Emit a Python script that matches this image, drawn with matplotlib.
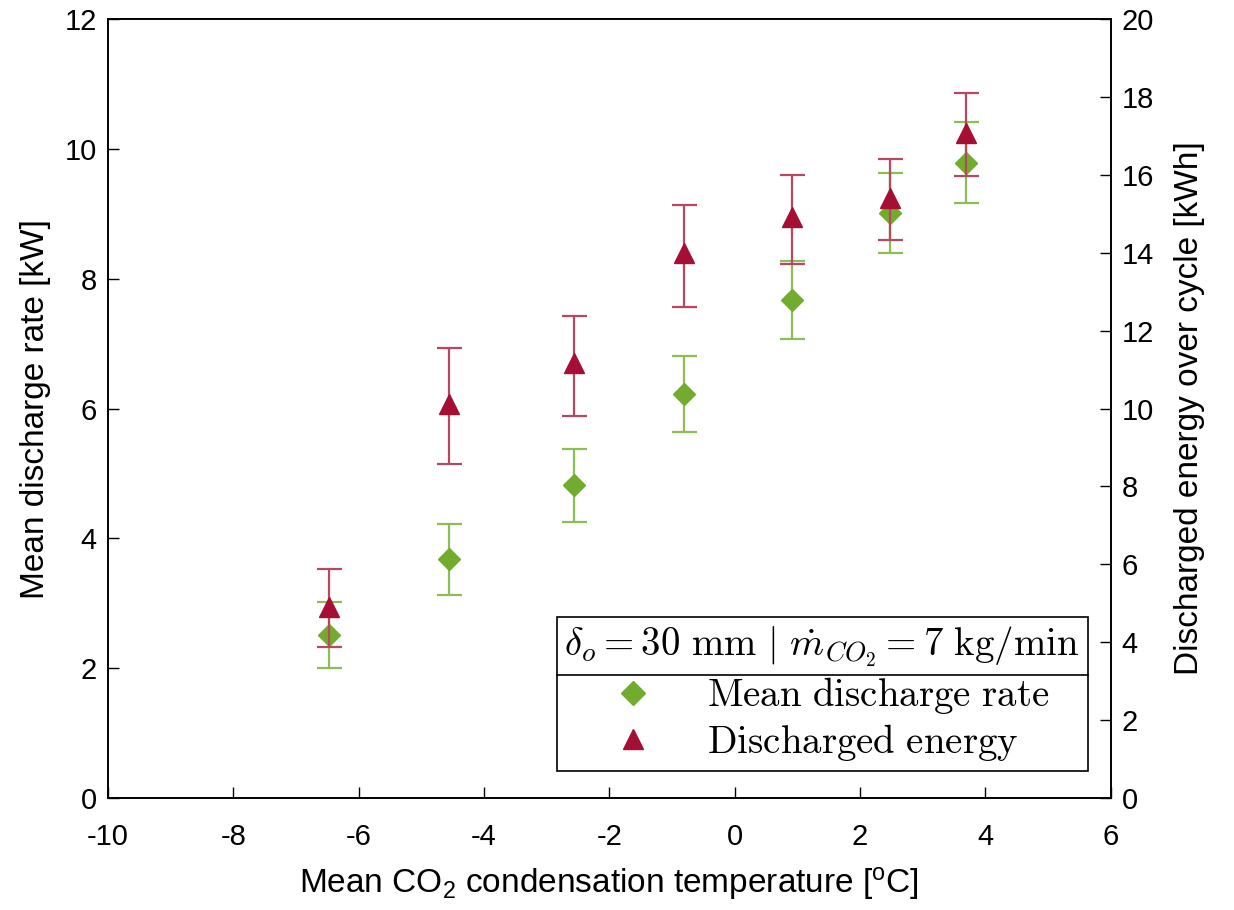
import numpy as np
import matplotlib
matplotlib.use("Agg")
import matplotlib.pyplot as plt
from matplotlib.font_manager import FontProperties
from matplotlib.lines import Line2D

plt.rcParams['font.family'] = ['Liberation Sans', 'DejaVu Sans']
plt.rcParams['mathtext.fontset'] = 'custom'
plt.rcParams['mathtext.rm'] = 'Liberation Sans'
plt.rcParams['mathtext.it'] = 'Liberation Sans:italic'
plt.rcParams['axes.unicode_minus'] = False

# mean CO2 condensation temperature [C]
temp = [-6.47, -4.56, -2.56, -0.8, 0.91, 2.48, 3.7]

# mean discharge rate [kW] with error bar ends
rate = [2.51, 3.68, 4.82, 6.22, 7.67, 9.01, 9.79]
rate_hi = [3.02, 4.22, 5.38, 6.81, 8.27, 9.63, 10.41]
rate_lo = [2.0, 3.13, 4.26, 5.64, 7.07, 8.40, 9.16]

# discharged energy [kWh] with error bar ends
energy = [4.91, 10.12, 11.16, 13.99, 14.93, 15.4, 17.07]
energy_hi = [5.89, 11.55, 12.38, 15.23, 16.0, 16.4, 18.11]
energy_lo = [3.87, 8.58, 9.80, 12.62, 13.7, 14.33, 15.96]

green = '#72AC2E'
red = '#A50F33'

rate = np.array(rate)
energy = np.array(energy)
rate_err = [rate - np.array(rate_lo), np.array(rate_hi) - rate]
energy_err = [energy - np.array(energy_lo), np.array(energy_hi) - energy]

fig = plt.figure(figsize=(12.34, 9.10), dpi=100)
ax = fig.add_axes([0.0875, 0.123, 0.8125, 0.856])
ax2 = ax.twinx()

ax.errorbar(temp, rate, yerr=rate_err, fmt='D', color=green, ms=11,
            ecolor='#8DBE55', elinewidth=1.6, capsize=9, capthick=1.6, zorder=3)
ax2.errorbar(temp, energy, yerr=energy_err, fmt='^', color=red, ms=14,
             ecolor='#B8485F', elinewidth=1.6, capsize=9, capthick=1.6, zorder=3)

ax.set_xlim(-10, 6)
ax.set_ylim(0, 12)
ax2.set_ylim(0, 20)
ax.set_xticks(np.arange(-10, 7, 2))
ax.set_yticks(np.arange(0, 13, 2))
ax2.set_yticks(np.arange(0, 21, 2))

for a in (ax, ax2):
    a.tick_params(direction='in', length=8, width=1, labelsize=21, pad=8)
    for s in a.spines.values():
        s.set_linewidth(1.2)
ax.tick_params(top=False, right=False)
ax.tick_params(axis='x', pad=18)

ax.set_xlabel(r'Mean CO$_\mathrm{2}$ condensation temperature [$^\mathrm{o}$C]', fontsize=24, labelpad=10)
ax.set_ylabel('Mean discharge rate [kW]', fontsize=24, labelpad=10)
ax2.set_ylabel('Discharged energy over cycle [kWh]', fontsize=24, labelpad=14)

handles = [Line2D([], [], marker='D', color=green, ls='none', ms=12),
           Line2D([], [], marker='^', color=red, ls='none', ms=14)]
labels = [r'$\mathrm{Mean\ discharge\ rate}$', r'$\mathrm{Discharged\ energy}$']
fp = FontProperties(size=28, math_fontfamily='cm')
leg = ax.legend(handles, labels, prop=fp,
                title=r'$\delta_o = 30\ \mathrm{mm}\ |\ \dot{m}_{CO_2} = 7\ \mathrm{kg/min}$',
                loc='lower right',
                bbox_to_anchor=(0.977, 0.035), borderaxespad=0, fancybox=False,
                edgecolor='black', framealpha=1, handletextpad=0.9, borderpad=0.2,
                labelspacing=0.15)
leg.get_title().set_fontsize(28)
leg.get_title().set_math_fontfamily('cm')
leg.get_frame().set_linewidth(1.2)
leg.set_zorder(5)

# separator line under the legend title
fig.canvas.draw()
r = fig.canvas.get_renderer()
fb = leg.get_frame().get_window_extent(r)
tb = leg.get_title().get_window_extent(r)
inv = fig.transFigure.inverted()
x0, y = inv.transform((fb.x0, tb.y0 - 6))
x1, _ = inv.transform((fb.x1, tb.y0 - 6))
fig.add_artist(Line2D([x0, x1], [y, y], color='black', lw=1.2, transform=fig.transFigure, zorder=10))

fig.savefig('out.png', dpi=100)
